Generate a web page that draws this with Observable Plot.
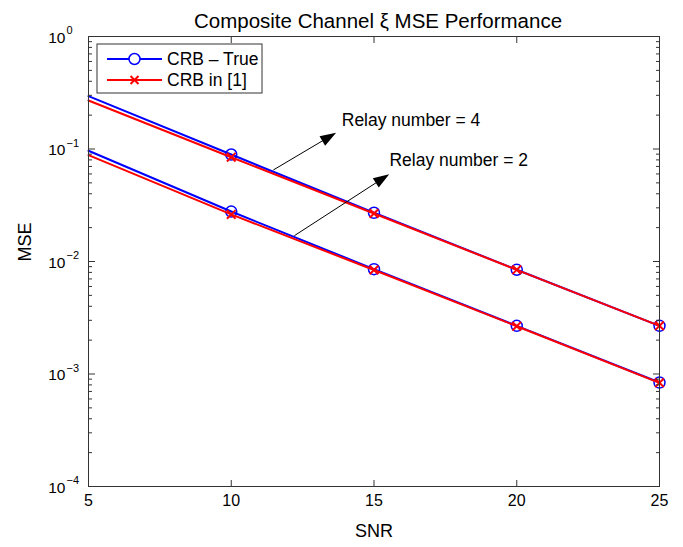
<!DOCTYPE html>
<html><head><meta charset="utf-8">
<script src="https://cdn.jsdelivr.net/npm/d3@7"></script>
<script src="https://cdn.jsdelivr.net/npm/@observablehq/plot@0.6"></script>
<style>body{margin:0;background:#fff}#chart{width:683px;height:547px}</style>
</head><body><div id="chart"></div>
<script>
// ---- data ----
const snr = [5, 10, 15, 20, 25];
const markerSnr = [10, 15, 20, 25];
const trueRelay4 = [0.295, 0.0893, 0.0271, 0.00845, 0.00268];
const refRelay4  = [0.270, 0.0845, 0.0267, 0.00843, 0.00268];
const trueRelay2 = [0.0964, 0.0278, 0.00855, 0.00268, 0.000840];
const refRelay2  = [0.0881, 0.0262, 0.00840, 0.00266, 0.000835];
const xTickValues = [5, 10, 15, 20, 25];
const xInnerTicks = [10, 15, 20];
const yTickValues = [1e-4, 1e-3, 1e-2, 1e-1, 1];
const yTickExponents = ["\u22124", "\u22123", "\u22122", "\u22121", "0"];
const seriesNames = ["CRB \u2013 True", "CRB in [1]"];
const annotationLabels = ["Relay number = 4", "Relay number = 2"];
const arrowX1 = [11.49, 12.23];
const arrowY1 = [0.0644, 0.0168];
const arrowX2 = [13.69, 15.55];
const arrowY2 = [0.138, 0.059];
const labelX = [13.87, 15.54];
const labelY = [0.179, 0.079];
const titleText = "Composite Channel \u03be MSE Performance";

const minorTicks = [];
for (const d of [1e-4, 1e-3, 1e-2, 1e-1]) for (let k = 2; k <= 9; k++) minorTicks.push(d * k);

const BLUE = "#0000ff", RED = "#ff0000", FONT = "'Liberation Sans', Arial, Helvetica, sans-serif";

function arrowsMark(index, scales) {
  const g = d3.create("svg:g");
  for (let i = 0; i < arrowX1.length; i++) {
    const x1 = scales.x(arrowX1[i]), y1 = scales.y(arrowY1[i]);
    const x2 = scales.x(arrowX2[i]), y2 = scales.y(arrowY2[i]);
    const a = Math.atan2(y2 - y1, x2 - x1), c = Math.cos(a), s = Math.sin(a);
    const L = 16, W = 5.5;
    const bx = x2 - L * c, by = y2 - L * s;
    g.append("line").attr("x1", x1).attr("y1", y1).attr("x2", bx + 2 * c).attr("y2", by + 2 * s)
      .attr("stroke", "#000").attr("stroke-width", 1);
    g.append("path").attr("d", `M${x2},${y2}L${bx - W * s},${by + W * c}L${bx + W * s},${by - W * c}Z`)
      .attr("fill", "#000");
  }
  return g.node();
}

function legendMark(index, scales, values, dims) {
  const g = d3.create("svg:g").attr("font-family", FONT).attr("text-anchor", "start");
  const x0 = dims.marginLeft + 9, y0 = dims.marginTop + 8;
  g.append("rect").attr("x", x0).attr("y", y0).attr("width", 165).attr("height", 49)
    .attr("fill", "#fff").attr("stroke", "#333").attr("stroke-width", 1);
  const rows = [{name: seriesNames[0], color: BLUE, sym: "circle"}, {name: seriesNames[1], color: RED, sym: "times"}];
  rows.forEach((r, i) => {
    const y = y0 + 15 + i * 21;
    g.append("line").attr("x1", x0 + 10).attr("x2", x0 + 65).attr("y1", y).attr("y2", y)
      .attr("stroke", r.color).attr("stroke-width", 2);
    const cx = x0 + 37.5;
    if (r.sym === "circle") {
      g.append("circle").attr("cx", cx).attr("cy", y).attr("r", 5.5).attr("fill", "#fff")
        .attr("stroke", r.color).attr("stroke-width", 1.5);
    } else {
      g.append("path").attr("d", `M${cx-4},${y-4}L${cx+4},${y+4}M${cx-4},${y+4}L${cx+4},${y-4}`)
        .attr("stroke", r.color).attr("stroke-width", 2);
    }
    g.append("text").attr("x", x0 + 70).attr("y", y).attr("dy", "0.35em").attr("font-size", 17.5)
      .attr("text-anchor", "start").attr("fill", "#000").text(r.name);
  });
  return g.node();
}

const lineOpts = (arr, color) => ({x: (d, i) => snr[i], y: d => d, stroke: color, strokeWidth: 2});

const chart = Plot.plot({
  width: 683, height: 547,
  marginLeft: 88, marginRight: 24, marginTop: 36, marginBottom: 61,
  style: {fontFamily: FONT, background: "#fff", color: "#000"},
  x: {type: "linear", domain: [5, 25]},
  y: {type: "log", domain: [1e-4, 1]},
  marks: [
    // series
    Plot.line(trueRelay4, lineOpts(trueRelay4, BLUE)),
    Plot.line(trueRelay2, lineOpts(trueRelay2, BLUE)),
    Plot.dot(markerSnr, {x: d => d, y: d => trueRelay4[snr.indexOf(d)], r: 5.5, stroke: BLUE, strokeWidth: 1.5, fill: "none"}),
    Plot.dot(markerSnr, {x: d => d, y: d => trueRelay2[snr.indexOf(d)], r: 5.5, stroke: BLUE, strokeWidth: 1.5, fill: "none"}),
    Plot.line(refRelay4, lineOpts(refRelay4, RED)),
    Plot.line(refRelay2, lineOpts(refRelay2, RED)),
    Plot.dot(markerSnr, {x: d => d, y: d => refRelay4[snr.indexOf(d)], r: 4, symbol: "times", stroke: RED, strokeWidth: 2}),
    Plot.dot(markerSnr, {x: d => d, y: d => refRelay2[snr.indexOf(d)], r: 4, symbol: "times", stroke: RED, strokeWidth: 2}),
    // frame and inward ticks
    Plot.frame({stroke: "#333", strokeWidth: 1}),
    Plot.axisX(xInnerTicks, {anchor: "bottom", tickSize: -6, tickFormat: () => "", label: null, stroke: "#333"}),
    Plot.axisX(xInnerTicks, {anchor: "top", tickSize: -6, tickFormat: () => "", label: null, stroke: "#333"}),
    Plot.axisY(yTickValues, {anchor: "left", tickSize: -7, tickFormat: () => "", label: null, stroke: "#333"}),
    Plot.axisY(yTickValues, {anchor: "right", tickSize: -7, tickFormat: () => "", label: null, stroke: "#333"}),
    Plot.axisY(minorTicks, {anchor: "left", tickSize: -4, tickFormat: () => "", label: null, stroke: "#333"}),
    Plot.axisY(minorTicks, {anchor: "right", tickSize: -4, tickFormat: () => "", label: null, stroke: "#333"}),
    // tick labels
    Plot.axisX(xTickValues, {anchor: "bottom", tickSize: 0, tickPadding: 8, fontSize: 16, tickFormat: d => String(d), label: null, fill: "#000"}),
    Plot.text(yTickValues, {y: d => d, text: () => "10", frameAnchor: "left", textAnchor: "end", dx: -23, dy: 1.5, fontSize: 15.5, fill: "#000"}),
    Plot.text(yTickValues, {y: d => d, text: (d, i) => yTickExponents[i], frameAnchor: "left", textAnchor: "start", dx: -22, dy: -6, fontSize: 11, fill: "#000"}),
    // axis labels and title
    Plot.text(["SNR"], {frameAnchor: "bottom", dy: 50, fontSize: 18, fill: "#000"}),
    Plot.text(["MSE"], {frameAnchor: "left", dx: -63, rotate: -90, fontSize: 18, fill: "#000"}),
    Plot.text([titleText], {frameAnchor: "top", dy: -23, dx: 4, fontSize: 20.5, fill: "#000"}),
    // annotations
    arrowsMark,
    Plot.text(annotationLabels, {x: (d, i) => labelX[i], y: (d, i) => labelY[i], text: d => d, textAnchor: "start", fontSize: 17.5, fill: "#000"}),
    legendMark
  ]
});
document.getElementById("chart").appendChild(chart);
</script>
</body></html>
